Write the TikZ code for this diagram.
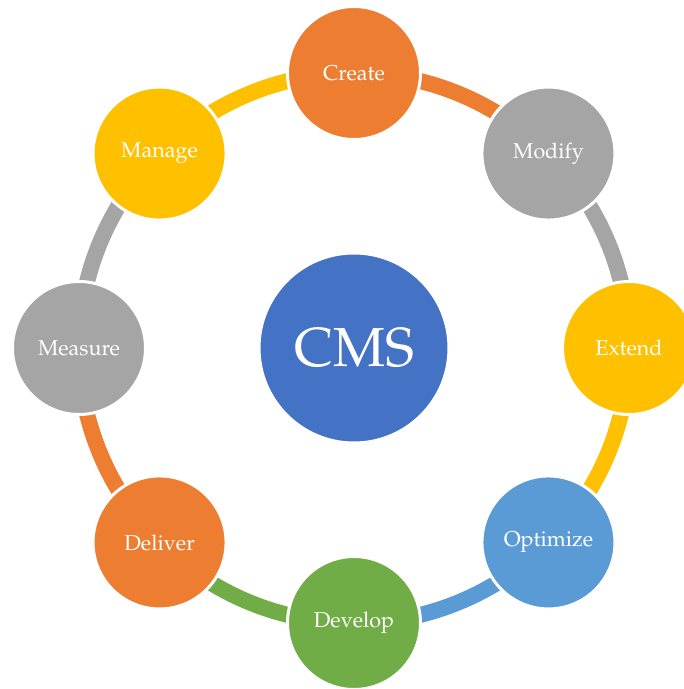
\documentclass[tikz,border=0pt]{standalone}
\usepackage[T1]{fontenc}
\usepackage{mathpazo}
\usetikzlibrary{calc}
\definecolor{corange}{HTML}{ED7D31}
\definecolor{cgray}{HTML}{A5A5A5}
\definecolor{cyellow}{HTML}{FFC000}
\definecolor{cblue}{HTML}{5B9BD5}
\definecolor{cgreen}{HTML}{70AD47}
\definecolor{cmsblue}{HTML}{4472C4}
\tikzset{
  ring/.style={line width=16pt},
  sat/.style={circle, minimum size=133pt, inner sep=0pt, draw=white, line width=3pt,
    text=white, font=\fontsize{21.5}{25}\selectfont},
  hub/.style={circle, minimum size=189pt, inner sep=0pt, draw=white, line width=2pt,
    fill=cmsblue, text=white, font=\fontsize{55}{60}\selectfont}
}
\begin{document}
\begin{tikzpicture}[x=1pt,y=1pt]
\useasboundingbox (0,0) rectangle (684,689);
\coordinate (O) at (354,341);
\foreach \ang/\col in {90/corange,45/cgray,0/cyellow,-45/cblue,-90/cgreen,-135/corange,180/cgray,135/cyellow}
  \draw[ring,\col] ($(O)+(\ang:275)$) arc[start angle=\ang,end angle=\ang-45,radius=275];
\node[hub] (cms) at (O) {CMS};
\node[sat,fill=corange] (create) at ($(O)+(90:275)$) {Create};
\node[sat,fill=cgray] (modify) at ($(O)+(45:275)$) {Modify};
\node[sat,fill=cyellow] (extend) at ($(O)+(0:275)$) {Extend};
\node[sat,fill=cblue] (optimize) at ($(O)+(-45:275)$) {Optimize};
\node[sat,fill=cgreen] (develop) at ($(O)+(-90:275)$) {Develop};
\node[sat,fill=corange] (deliver) at ($(O)+(-135:275)$) {Deliver};
\node[sat,fill=cgray] (measure) at ($(O)+(180:275)$) {Measure};
\node[sat,fill=cyellow] (manage) at ($(O)+(135:275)$) {Manage};
\end{tikzpicture}
\end{document}
